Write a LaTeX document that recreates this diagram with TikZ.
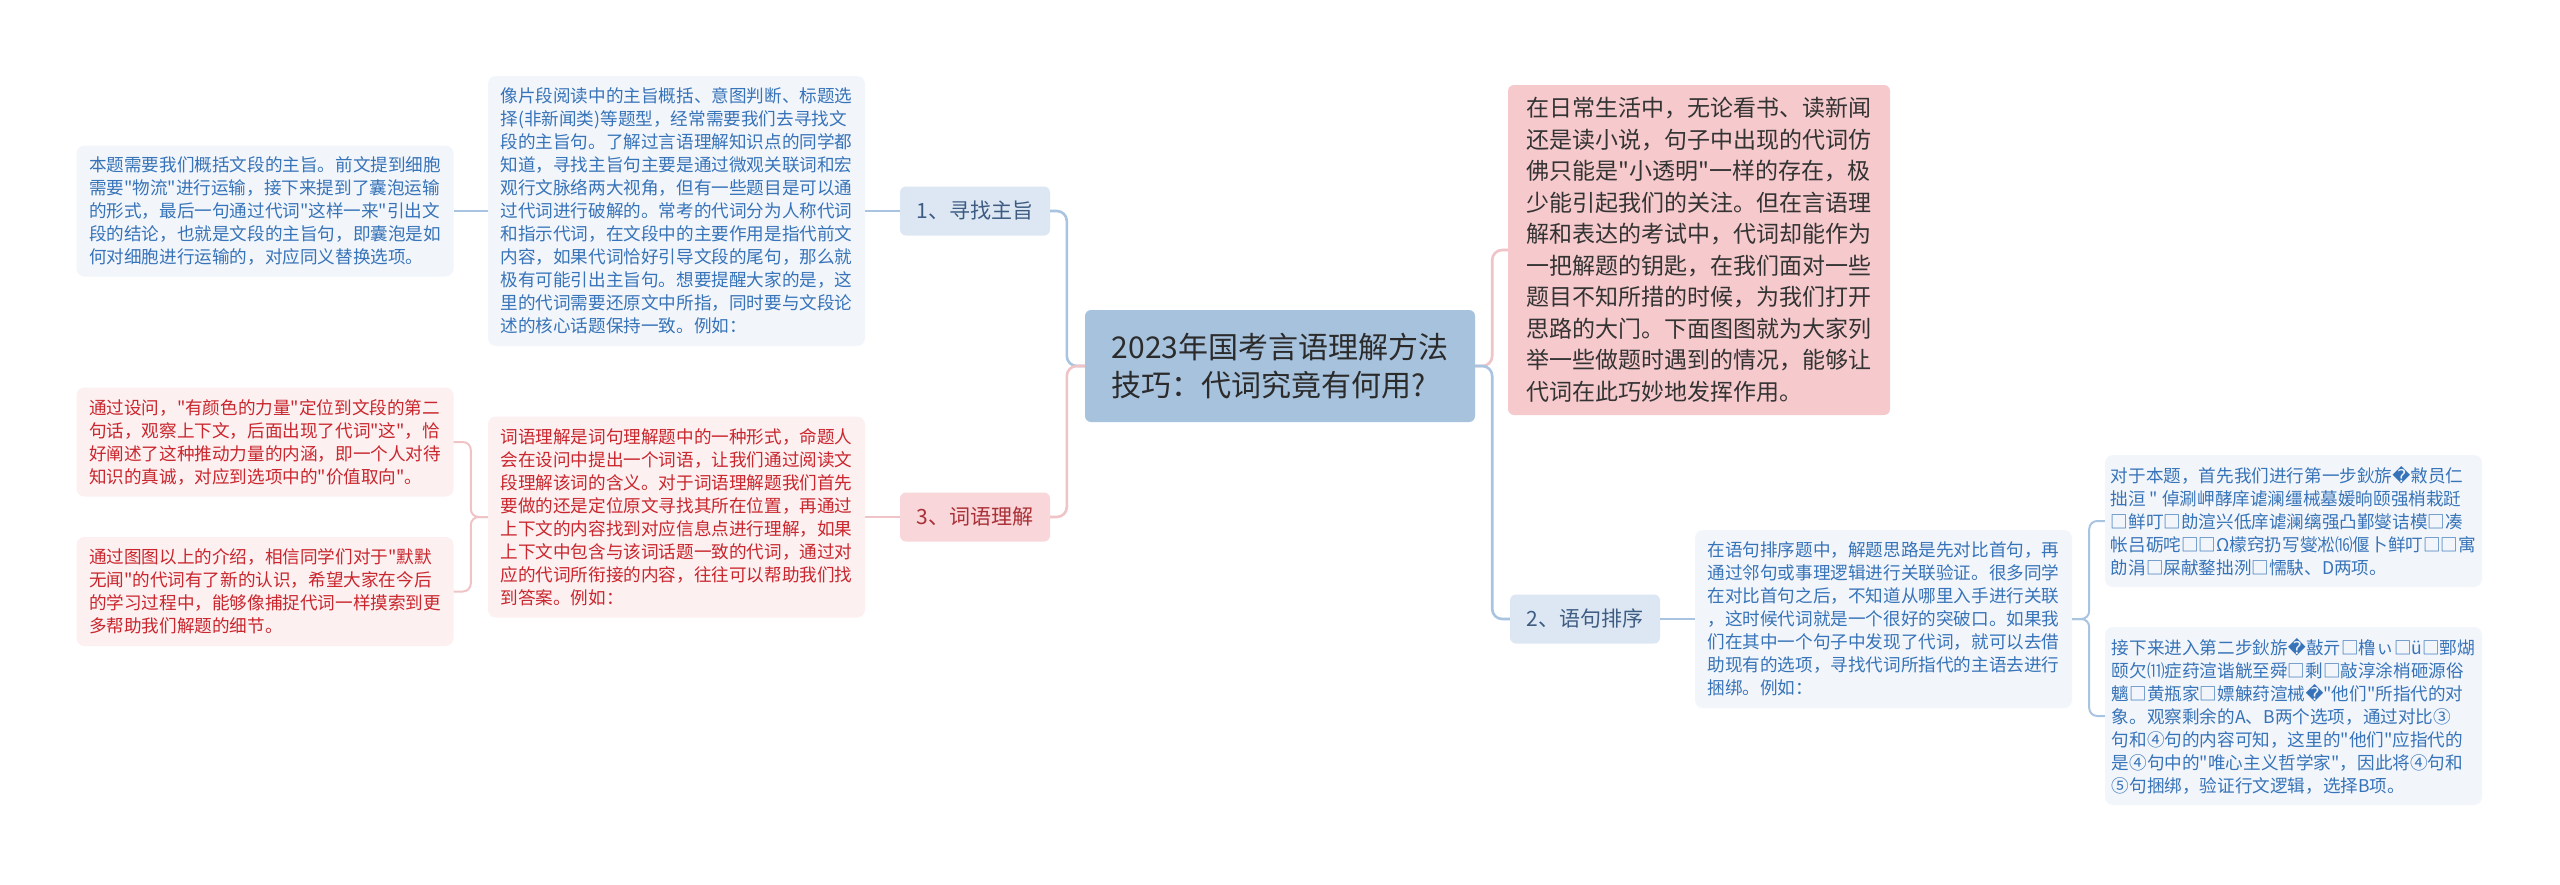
\documentclass[tikz,border=0pt]{standalone}
\usepackage{fontspec}
\setmainfont{Noto Sans CJK SC}[Ligatures=TeXOff]
\newfontfamily\symfont{DejaVu Sans}
\newcommand{\badch}{{\symfont\char"FFFD}}

\definecolor{rootfill}{HTML}{A7C2DD}
\definecolor{rootink}{HTML}{2B2B2B}
\definecolor{introfill}{HTML}{F6CACD}
\definecolor{introink}{HTML}{333333}
\definecolor{bluefill}{HTML}{DCE7F3}
\definecolor{blueink}{HTML}{3E5C82}
\definecolor{pinkfill}{HTML}{F9D6D9}
\definecolor{pinkink}{HTML}{A93036}
\definecolor{leafbluefill}{HTML}{F2F6FB}
\definecolor{leafblueink}{HTML}{3773B8}
\definecolor{leafpinkfill}{HTML}{FCF0F1}
\definecolor{leafpinkink}{HTML}{C9262D}
\definecolor{blueline}{HTML}{A9C4E0}
\definecolor{pinkline}{HTML}{F0C3C7}

\begin{document}
\begin{tikzpicture}[x=1pt, y=-1pt,
    root/.style={fill=rootfill, text=rootink, rounded corners=6pt, align=left,
        font=\fontsize{30}{38}\selectfont, minimum width=390pt, minimum height=112pt},
    intro/.style={fill=introfill, text=introink, rounded corners=6pt, align=left,
        font=\fontsize{23}{31.5}\selectfont, minimum width=382pt, minimum height=330pt},
    branchblue/.style={fill=bluefill, text=blueink, rounded corners=6pt,
        font=\fontsize{21}{26}\selectfont, minimum width=150pt, minimum height=49pt},
    branchpink/.style={branchblue, fill=pinkfill, text=pinkink},
    leafblue/.style={fill=leafbluefill, text=leafblueink, rounded corners=8pt, align=left,
        font=\fontsize{17.6}{23}\selectfont, minimum width=377pt, inner sep=0pt},
    leafpink/.style={leafblue, fill=leafpinkfill, text=leafpinkink},
    linkblue/.style={draw=blueline, line width=2.6pt, rounded corners=10pt},
    linkpink/.style={draw=pinkline, line width=2.6pt, rounded corners=10pt},
    leaflinkblue/.style={draw=blueline, line width=2pt, rounded corners=8pt},
    leaflinkpink/.style={draw=pinkline, line width=2pt, rounded corners=8pt}]

    \useasboundingbox[fill=white] (0,0) rectangle (2560,884);

    % Nodes
    \node (root) [root] at (1280, 366) {2023年国考言语理解方法\\技巧：代词究竟有何用?};

    \node (intro) [intro] at (1699, 250) {在日常生活中，无论看书、读新闻\\还是读小说，句子中出现的代词仿\\佛只能是"小透明"一样的存在，极\\少能引起我们的关注。但在言语理\\解和表达的考试中，代词却能作为\\一把解题的钥匙，在我们面对一些\\题目不知所措的时候，为我们打开\\思路的大门。下面图图就为大家列\\举一些做题时遇到的情况，能够让\\代词在此巧妙地发挥作用。};

    \node (b1) [branchblue] at (975, 211) {1、寻找主旨};
    \node (b3) [branchpink] at (975, 517) {3、词语理解};
    \node (b2) [branchblue] at (1585, 619) {2、语句排序};

    \node (l1a) [leafblue, minimum height=270pt] at (676.5, 211) {像片段阅读中的主旨概括、意图判断、标题选\\择(非新闻类)等题型，经常需要我们去寻找文\\段的主旨句。了解过言语理解知识点的同学都\\知道，寻找主旨句主要是通过微观关联词和宏\\观行文脉络两大视角，但有一些题目是可以通\\过代词进行破解的。常考的代词分为人称代词\\和指示代词，在文段中的主要作用是指代前文\\内容，如果代词恰好引导文段的尾句，那么就\\极有可能引出主旨句。想要提醒大家的是，这\\里的代词需要还原文中所指，同时要与文段论\\述的核心话题保持一致。例如：};
    \node (l1b) [leafblue, minimum height=131pt] at (265, 211) {本题需要我们概括文段的主旨。前文提到细胞\\需要"物流"进行运输，接下来提到了囊泡运输\\的形式，最后一句通过代词"这样一来"引出文\\段的结论，也就是文段的主旨句，即囊泡是如\\何对细胞进行运输的，对应同义替换选项。};

    \node (l3a) [leafpink, minimum height=201pt] at (676.5, 517) {词语理解是词句理解题中的一种形式，命题人\\会在设问中提出一个词语，让我们通过阅读文\\段理解该词的含义。对于词语理解题我们首先\\要做的还是定位原文寻找其所在位置，再通过\\上下文的内容找到对应信息点进行理解，如果\\上下文中包含与该词话题一致的代词，通过对\\应的代词所衔接的内容，往往可以帮助我们找\\到答案。例如：};
    \node (l3b1) [leafpink, minimum height=109pt] at (265, 442) {通过设问，"有颜色的力量"定位到文段的第二\\句话，观察上下文，后面出现了代词"这"，恰\\好阐述了这种推动力量的内涵，即一个人对待\\知识的真诚，对应到选项中的"价值取向"。};
    \node (l3b2) [leafpink, minimum height=109pt] at (265, 591.5) {通过图图以上的介绍，相信同学们对于"默默\\无闻"的代词有了新的认识，希望大家在今后\\的学习过程中，能够像捕捉代词一样摸索到更\\多帮助我们解题的细节。};

    \node (r2a) [leafblue, minimum height=178pt] at (1883.5, 619) {在语句排序题中，解题思路是先对比首句，再\\通过邻句或事理逻辑进行关联验证。很多同学\\在对比首句之后，不知道从哪里入手进行关联\\，这时候代词就是一个很好的突破口。如果我\\们在其中一个句子中发现了代词，就可以去借\\助现有的选项，寻找代词所指代的主语去进行\\捆绑。例如：};
    \node (r2b1) [leafblue, minimum height=132pt] at (2293.5, 521) {对于本题，首先我们进行第一步鈥旂\badch 敹员仁\\拙洹 " 倬涮岬酵庠谑澜缰械墓媛晌颐强梢栽跹\\□鲜叮□勆渲兴低庠谑澜缡强凸鄞燮诘模□凑\\帐吕砺咤□□Ω檬窍扔写燮凇⒃偃卜鲜叮□□寓\\勆涓□屎献鍪拙洌□懦駃、D两项。};
    \node (r2b2) [leafblue, minimum height=178pt] at (2293.5, 716) {接下来进入第二步鈥旂\badch 敼亓□橹ぃ□ü□鄄煳\\颐欠⑾症荮渲谐觥至舜□剩□敲淳涂梢砸源俗\\魑□黄瓶家□嫖觫荮渲械\badch "他们"所指代的对\\象。观察剩余的A、B两个选项，通过对比③\\句和④句的内容可知，这里的"他们"应指代的\\是④句中的"唯心主义哲学家"，因此将④句和\\⑤句捆绑，验证行文逻辑，选择B项。};

    % Edges
    \draw[linkblue] (root.west) -- ++(-18,0) |- (b1.east);
    \draw[linkpink] (root.west) -- ++(-18,0) |- (b3.east);
    \draw[linkpink] (root.east) -- ++(17,0) |- (intro.west);
    \draw[linkblue] (root.east) -- ++(17,0) |- (b2.west);

    \draw[leaflinkblue] (b1.west) -- (l1a.east);
    \draw[leaflinkblue] (l1a.west) -- (l1b.east);

    \draw[leaflinkpink] (b3.west) -- (l3a.east);
    \draw[leaflinkpink] (l3a.west) -- ++(-17,0) |- (l3b1.east);
    \draw[leaflinkpink] (l3a.west) -- ++(-17,0) |- (l3b2.east);

    \draw[leaflinkblue] (b2.east) -- (r2a.west);
    \draw[leaflinkblue] (r2a.east) -- ++(17,0) |- (r2b1.west);
    \draw[leaflinkblue] (r2a.east) -- ++(17,0) |- (r2b2.west);

\end{tikzpicture}
\end{document}
